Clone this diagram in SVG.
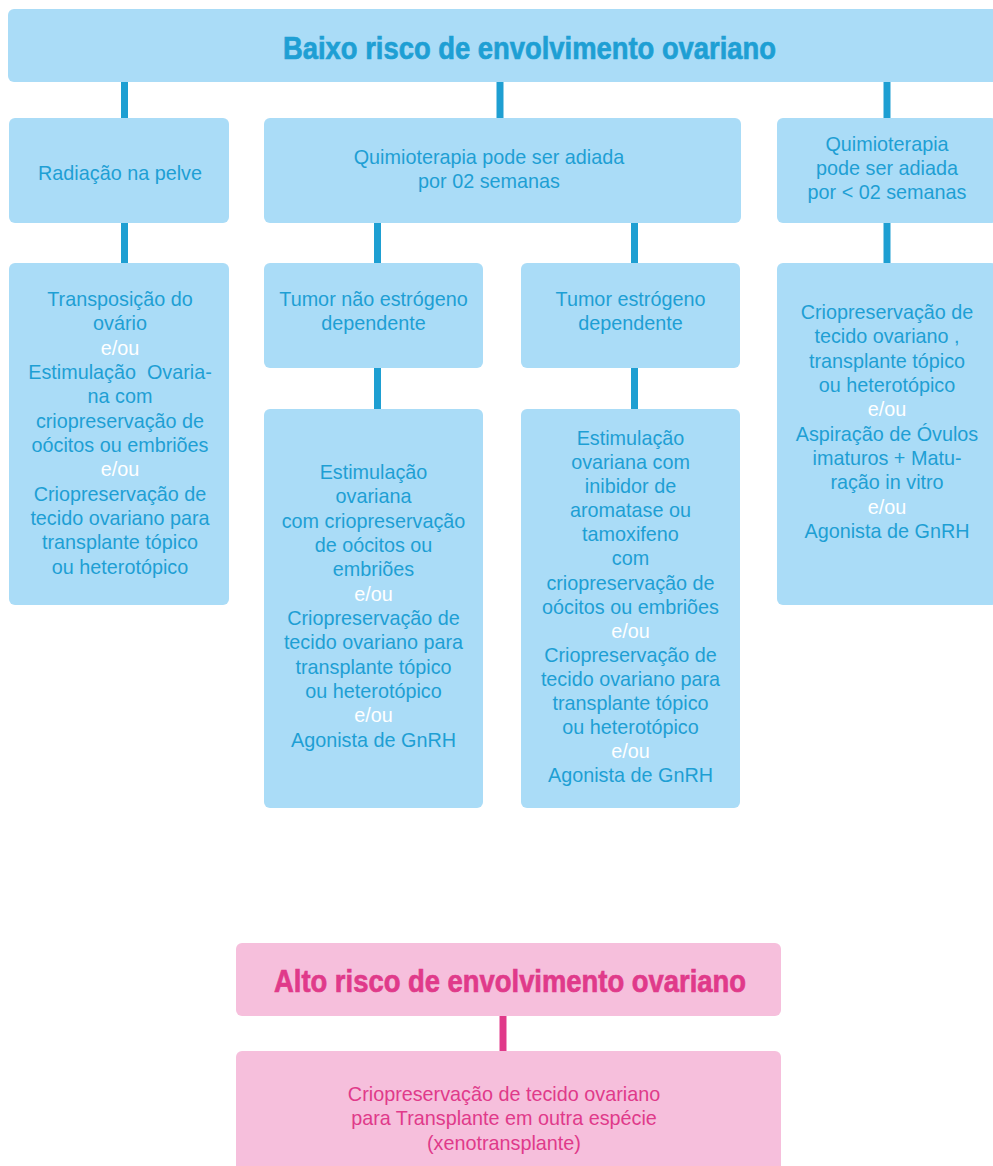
<svg xmlns="http://www.w3.org/2000/svg" width="993" height="1166" viewBox="0 0 993 1166">
  <style>
    .bbox { fill: #aadcf7; }
    .pbox { fill: #f6bfdc; }
    .blink { stroke: #1e9fd2; stroke-width: 7; }
    .plink { stroke: #e03a8a; stroke-width: 7; }
    .t { font-family: "Liberation Sans", Arial, sans-serif; font-size: 19.8px; text-anchor: middle; white-space: pre; }
    .bt { fill: #1e9fd4; }
    .pt { fill: #e03a8a; }
    .w { fill: #ffffff; }
    .head { font-family: "Liberation Sans", Arial, sans-serif; font-weight: bold; font-size: 32px; stroke-width: 0.7px; }
    .head.bt { stroke: #1e9fd4; }
    .head.pt { stroke: #e03a8a; }
  </style>

  <!-- connectors -->
  <g id="connectors">
    <line class="blink" x1="124.5" y1="80" x2="124.5" y2="120"/>
    <line class="blink" x1="500" y1="80" x2="500" y2="120"/>
    <line class="blink" x1="887" y1="80" x2="887" y2="120"/>
    <line class="blink" x1="124.5" y1="222" x2="124.5" y2="265"/>
    <line class="blink" x1="377.5" y1="222" x2="377.5" y2="265"/>
    <line class="blink" x1="634.5" y1="222" x2="634.5" y2="265"/>
    <line class="blink" x1="887" y1="222" x2="887" y2="265"/>
    <line class="blink" x1="377.5" y1="366" x2="377.5" y2="411"/>
    <line class="blink" x1="634.5" y1="366" x2="634.5" y2="411"/>
    <line class="plink" x1="503" y1="1014" x2="503" y2="1053"/>
  </g>

  <!-- low-risk header -->
  <g id="low-risk">
    <rect class="bbox" x="8" y="9" width="1060" height="73" rx="6"/>
    <text class="head bt" x="283" y="59" textLength="493" lengthAdjust="spacingAndGlyphs">Baixo risco de envolvimento ovariano</text>
  </g>

  <g id="radiacao">
    <rect class="bbox" x="9" y="118" width="220" height="105" rx="6"/>
    <text class="t bt" x="120" y="180">Radiação na pelve</text>
  </g>

  <g id="quimio-02">
    <rect class="bbox" x="264" y="118" width="477" height="105" rx="6"/>
    <text class="t bt" x="489" y="164">Quimioterapia pode ser adiada</text>
    <text class="t bt" x="489" y="188">por 02 semanas</text>
  </g>

  <g id="quimio-menor-02">
    <rect class="bbox" x="777" y="118" width="220" height="105" rx="6"/>
    <text class="t bt" x="887" y="151">Quimioterapia</text>
    <text class="t bt" x="887" y="175">pode ser adiada</text>
    <text class="t bt" x="887" y="199">por &lt; 02 semanas</text>
  </g>

  <g id="opcoes-radiacao">
    <rect class="bbox" x="9" y="263" width="220" height="342" rx="6"/>
    <text class="t bt" x="120" y="306">Transposição do</text>
    <text class="t bt" x="120" y="330">ovário</text>
    <text class="t w" x="120" y="354.5">e/ou</text>
    <text class="t bt" x="120" y="379">Estimulação  Ovaria-</text>
    <text class="t bt" x="120" y="403">na com</text>
    <text class="t bt" x="120" y="427.5">criopreservação de</text>
    <text class="t bt" x="120" y="452">oócitos ou embriões</text>
    <text class="t w" x="120" y="476">e/ou</text>
    <text class="t bt" x="120" y="500.5">Criopreservação de</text>
    <text class="t bt" x="120" y="525">tecido ovariano para</text>
    <text class="t bt" x="120" y="549">transplante tópico</text>
    <text class="t bt" x="120" y="573.5">ou heterotópico</text>
  </g>

  <g id="tumor-nao-estrogeno">
    <rect class="bbox" x="264" y="263" width="219" height="105" rx="6"/>
    <text class="t bt" x="373.5" y="306">Tumor não estrógeno</text>
    <text class="t bt" x="373.5" y="330">dependente</text>
  </g>

  <g id="tumor-estrogeno">
    <rect class="bbox" x="521" y="263" width="219" height="105" rx="6"/>
    <text class="t bt" x="630.5" y="306">Tumor estrógeno</text>
    <text class="t bt" x="630.5" y="330">dependente</text>
  </g>

  <g id="opcoes-menor-02">
    <rect class="bbox" x="777" y="263" width="220" height="342" rx="6"/>
    <text class="t bt" x="887" y="319">Criopreservação de</text>
    <text class="t bt" x="887" y="343">tecido ovariano ,</text>
    <text class="t bt" x="887" y="367.5">transplante tópico</text>
    <text class="t bt" x="887" y="392">ou heterotópico</text>
    <text class="t w" x="887" y="416">e/ou</text>
    <text class="t bt" x="887" y="440.5">Aspiração de Óvulos</text>
    <text class="t bt" x="887" y="465">imaturos + Matu-</text>
    <text class="t bt" x="887" y="489">ração in vitro</text>
    <text class="t w" x="887" y="513.5">e/ou</text>
    <text class="t bt" x="887" y="538">Agonista de GnRH</text>
  </g>

  <g id="opcoes-nao-estrogeno">
    <rect class="bbox" x="264" y="409" width="219" height="399" rx="6"/>
    <text class="t bt" x="373.5" y="479">Estimulação</text>
    <text class="t bt" x="373.5" y="503">ovariana</text>
    <text class="t bt" x="373.5" y="527.5">com criopreservação</text>
    <text class="t bt" x="373.5" y="552">de oócitos ou</text>
    <text class="t bt" x="373.5" y="576">embriões</text>
    <text class="t w" x="373.5" y="600.5">e/ou</text>
    <text class="t bt" x="373.5" y="625">Criopreservação de</text>
    <text class="t bt" x="373.5" y="649">tecido ovariano para</text>
    <text class="t bt" x="373.5" y="673.5">transplante tópico</text>
    <text class="t bt" x="373.5" y="698">ou heterotópico</text>
    <text class="t w" x="373.5" y="722">e/ou</text>
    <text class="t bt" x="373.5" y="746.5">Agonista de GnRH</text>
  </g>

  <g id="opcoes-estrogeno">
    <rect class="bbox" x="521" y="409" width="219" height="399" rx="6"/>
    <text class="t bt" x="630.5" y="445">Estimulação</text>
    <text class="t bt" x="630.5" y="469">ovariana com</text>
    <text class="t bt" x="630.5" y="493">inibidor de</text>
    <text class="t bt" x="630.5" y="517">aromatase ou</text>
    <text class="t bt" x="630.5" y="541">tamoxifeno</text>
    <text class="t bt" x="630.5" y="565">com</text>
    <text class="t bt" x="630.5" y="589.5">criopreservação de</text>
    <text class="t bt" x="630.5" y="613.5">oócitos ou embriões</text>
    <text class="t w" x="630.5" y="637.5">e/ou</text>
    <text class="t bt" x="630.5" y="661.5">Criopreservação de</text>
    <text class="t bt" x="630.5" y="685.5">tecido ovariano para</text>
    <text class="t bt" x="630.5" y="710">transplante tópico</text>
    <text class="t bt" x="630.5" y="734">ou heterotópico</text>
    <text class="t w" x="630.5" y="758">e/ou</text>
    <text class="t bt" x="630.5" y="782">Agonista de GnRH</text>
  </g>

  <!-- high-risk branch -->
  <g id="high-risk">
    <rect class="pbox" x="236" y="943" width="545" height="73" rx="6"/>
    <text class="head pt" x="274" y="992" textLength="472" lengthAdjust="spacingAndGlyphs">Alto risco de envolvimento ovariano</text>
  </g>

  <g id="xenotransplante">
    <rect class="pbox" x="236" y="1051" width="545" height="130" rx="6"/>
    <text class="t pt" x="504" y="1101">Criopreservação de tecido ovariano</text>
    <text class="t pt" x="504" y="1125">para Transplante em outra espécie</text>
    <text class="t pt" x="504" y="1149.5">(xenotransplante)</text>
  </g>
</svg>
